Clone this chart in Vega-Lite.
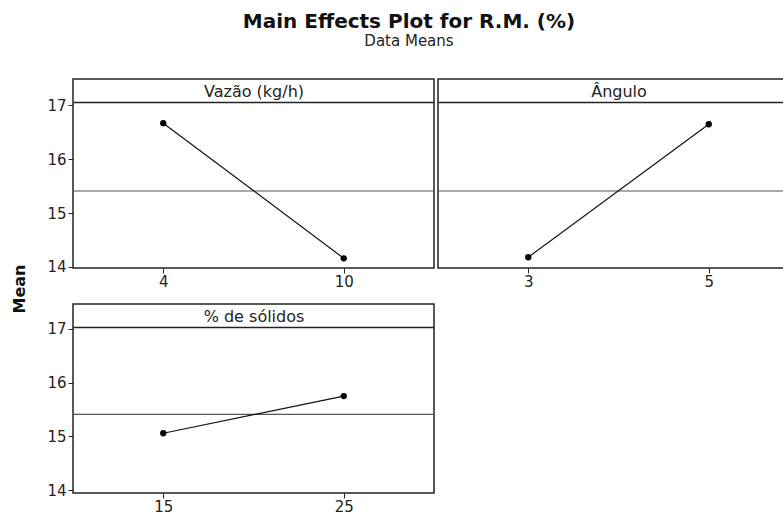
{
  "$schema": "https://vega.github.io/schema/vega-lite/v6.json",
  "background": "white",
  "padding": {"left": 12, "top": 0, "right": 0, "bottom": 0},
  "datasets": {
    "m": [
      {"factor": "Vazão (kg/h)", "level": 4, "mean": 16.67, "grand": 15.41},
      {"factor": "Vazão (kg/h)", "level": 10, "mean": 14.16, "grand": 15.41},
      {"factor": "Ângulo", "level": 3, "mean": 14.18, "grand": 15.41},
      {"factor": "Ângulo", "level": 5, "mean": 16.65, "grand": 15.41},
      {"factor": "% de sólidos", "level": 15, "mean": 15.06, "grand": 15.41},
      {"factor": "% de sólidos", "level": 25, "mean": 15.75, "grand": 15.41}
    ],
    "titles": [
      {"kind": "title", "text": "Main Effects Plot for R.M. (%)"},
      {"kind": "subtitle", "text": "Data Means"}
    ],
    "ylab": [{"label": "Mean"}]
  },
  "spacing": 18,
  "vconcat": [
    {
      "width": 794, "height": 60,
      "view": {"stroke": null},
      "data": {"name": "titles"},
      "layer": [
        {
          "transform": [{"filter": "datum.kind == 'title'"}],
          "mark": {"type": "text", "font": "DejaVu Sans", "fontSize": 20, "fontWeight": "bold", "color": "#111", "baseline": "bottom", "dy": 2},
          "encoding": {"text": {"field": "text"}}
        },
        {
          "transform": [{"filter": "datum.kind == 'subtitle'"}],
          "mark": {"type": "text", "font": "DejaVu Sans", "fontSize": 15, "color": "#222", "baseline": "top", "dy": 4},
          "encoding": {"text": {"field": "text"}}
        }
      ]
    },
    {
      "spacing": 18,
      "hconcat": [
        {
          "width": 16, "height": 420,
          "view": {"stroke": null},
          "data": {"name": "ylab"},
          "mark": {"type": "text", "font": "DejaVu Sans", "fontSize": 16, "fontWeight": "bold", "color": "#111", "angle": 270, "baseline": "middle"},
          "encoding": {"text": {"field": "label"}}
        },
        {
          "spacing": 13,
          "vconcat": [
            {
              "spacing": 0,
              "hconcat": [
                {
                  "width": 361, "height": 189,
                  "data": {"name": "m"},
                  "transform": [{"filter": "datum.factor == 'Vazão (kg/h)'"}],
                  "encoding": {
                    "x": {"field": "level", "type": "ordinal", "scale": {"type": "point", "padding": 0.5}},
                    "y": {"field": "mean", "type": "quantitative", "scale": {"domain": [13.98, 17.49], "nice": false, "zero": false},
                          "axis": {
                            "title": "Vazão (kg/h)",
                            "values": [14, 15, 16, 17, 17.056], "labelOverlap": false,
                            "labelExpr": "datum.value > 17.01 ? '' : format(datum.value, 'd')",
                            "tickOpacity": {"condition": {"test": "datum.value > 17.01", "value": 0}, "value": 1},
                            "grid": true, "gridColor": "#222", "gridWidth": 1.5,
                            "gridOpacity": {"condition": {"test": "datum.value > 17.01", "value": 1}, "value": 0}
                          }}
                  },
                  "layer": [
                    {"mark": {"type": "rule", "color": "#555", "strokeWidth": 1.2},
                     "transform": [{"aggregate": [{"op": "mean", "field": "grand", "as": "g"}], "groupby": ["factor"]}],
                     "encoding": {"x": null, "y": {"field": "g", "type": "quantitative"}}},
                    {"mark": {"type": "line", "color": "#111", "strokeWidth": 1.2}},
                    {"mark": {"type": "point", "filled": true, "color": "#000", "opacity": 1, "size": 40}}
                  ]
                },
                {
                  "width": 361, "height": 189,
                  "data": {"name": "m"},
                  "transform": [{"filter": "datum.factor == 'Ângulo'"}],
                  "encoding": {
                    "x": {"field": "level", "type": "ordinal", "scale": {"type": "point", "padding": 0.5}},
                    "y": {"field": "mean", "type": "quantitative", "scale": {"domain": [13.98, 17.49], "nice": false, "zero": false},
                          "axis": {
                            "title": "Ângulo", "values": [17.056], "labels": false, "ticks": false,
                            "grid": true, "gridColor": "#222", "gridWidth": 1.5, "gridOpacity": 1
                          }}
                  },
                  "layer": [
                    {"mark": {"type": "rule", "color": "#555", "strokeWidth": 1.2},
                     "transform": [{"aggregate": [{"op": "mean", "field": "grand", "as": "g"}], "groupby": ["factor"]}],
                     "encoding": {"x": null, "y": {"field": "g", "type": "quantitative"}}},
                    {"mark": {"type": "line", "color": "#111", "strokeWidth": 1.2}},
                    {"mark": {"type": "point", "filled": true, "color": "#000", "opacity": 1, "size": 40}}
                  ]
                }
              ]
            },
            {
              "width": 361, "height": 189,
              "data": {"name": "m"},
              "transform": [{"filter": "datum.factor == '% de sólidos'"}],
              "encoding": {
                "x": {"field": "level", "type": "ordinal", "scale": {"type": "point", "padding": 0.5}},
                "y": {"field": "mean", "type": "quantitative", "scale": {"domain": [13.95, 17.46], "nice": false, "zero": false},
                      "axis": {
                        "title": "% de sólidos",
                        "values": [14, 15, 16, 17, 17.03], "labelOverlap": false,
                        "labelExpr": "datum.value > 17.01 ? '' : format(datum.value, 'd')",
                        "tickOpacity": {"condition": {"test": "datum.value > 17.01", "value": 0}, "value": 1},
                        "grid": true, "gridColor": "#222", "gridWidth": 1.5,
                        "gridOpacity": {"condition": {"test": "datum.value > 17.01", "value": 1}, "value": 0}
                      }}
              },
              "layer": [
                {"mark": {"type": "rule", "color": "#555", "strokeWidth": 1.2},
                 "transform": [{"aggregate": [{"op": "mean", "field": "grand", "as": "g"}], "groupby": ["factor"]}],
                 "encoding": {"x": null, "y": {"field": "g", "type": "quantitative"}}},
                {"mark": {"type": "line", "color": "#111", "strokeWidth": 1.2}},
                {"mark": {"type": "point", "filled": true, "color": "#000", "opacity": 1, "size": 40}}
              ]
            }
          ]
        }
      ]
    }
  ],
  "config": {
    "view": {"stroke": "#222", "strokeWidth": 1.5},
    "axisX": {
      "title": null, "labelAngle": 0, "domain": false, "tickSize": 5, "tickColor": "#222",
      "labelFont": "DejaVu Sans", "labelFontSize": 15, "labelColor": "#222", "labelPadding": 1
    },
    "axisY": {
      "domain": false, "tickSize": 5, "tickColor": "#222",
      "labelFont": "DejaVu Sans", "labelFontSize": 15, "labelColor": "#222", "labelPadding": 2,
      "titleAngle": 0, "titleX": 180.5, "titleY": 12, "titleAlign": "center", "titleBaseline": "middle",
      "titleFont": "DejaVu Sans", "titleFontSize": 16, "titleFontWeight": "normal", "titleColor": "#222"
    }
  }
}
